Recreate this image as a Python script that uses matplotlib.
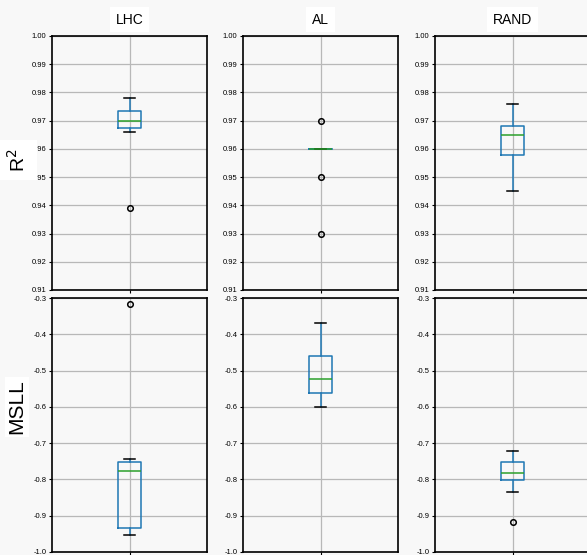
import matplotlib
matplotlib.use("Agg")
import matplotlib.pyplot as plt
import numpy as np

plt.rcParams['font.family'] = ['Liberation Sans', 'DejaVu Sans']

methods = ["LHC", "AL", "RAND"]
metrics = ["R$^2$", "MSLL"]

# box stats: whislo, q1, med, q3, whishi, fliers
r2_stats = [
    (0.966, 0.9675, 0.970, 0.9735, 0.978, [0.939]),
    (0.960, 0.960, 0.960, 0.960, 0.960, [0.97, 0.95, 0.93]),
    (0.945, 0.9577, 0.9648, 0.968, 0.976, []),
]
msll_stats = [
    (-0.953, -0.934, -0.776, -0.751, -0.743, [-0.316]),
    (-0.601, -0.562, -0.524, -0.459, -0.370, []),
    (-0.834, -0.801, -0.783, -0.753, -0.721, [-0.918]),
]
r2_ticks = [0.91, 0.92, 0.93, 0.94, 0.95, 0.96, 0.97, 0.98, 0.99, 1.00]
msll_ticks = [-1.0, -0.9, -0.8, -0.7, -0.6, -0.5, -0.4, -0.3]

W, H = 587, 555
fig = plt.figure(figsize=(W / 100, H / 100), dpi=100)
fig.patch.set_facecolor('#f8f8f8')

col_left = [52, 243, 435]
panel_w = 155
row_top = [36, 298]
panel_h = 254


def to_stats(t):
    lo, q1, med, q3, hi, fl = t
    return dict(whislo=lo, q1=q1, med=med, q3=q3, whishi=hi, fliers=fl)


for r, (stats, ticks, fmt) in enumerate([(r2_stats, r2_ticks, "{:.2f}"),
                                          (msll_stats, msll_ticks, "{:.1f}")]):
    for c in range(3):
        ax = fig.add_axes([col_left[c] / W, 1 - (row_top[r] + panel_h) / H,
                           panel_w / W, panel_h / H])
        ax.set_facecolor('#f8f8f8')
        ax.bxp([to_stats(stats[c])], widths=0.15,
               boxprops=dict(color='#1f77b4', lw=1.1),
               whiskerprops=dict(color='#1f77b4', lw=1.1),
               capprops=dict(color='black', lw=1.1),
               medianprops=dict(color='#2ca02c', lw=1.1),
               flierprops=dict(marker='o', markerfacecolor='none',
                               markeredgecolor='black', markersize=4,
                               markeredgewidth=1.1))
        ax.set_xlim(0.5, 1.5)
        ax.set_ylim(ticks[0], ticks[-1])
        ax.set_yticks(ticks)
        ax.set_yticklabels([fmt.format(v) for v in ticks], fontsize=5.5)
        ax.set_xticks([1])
        ax.set_xticklabels([""])
        ax.tick_params(axis='both', length=2, width=0.8, pad=2)
        ax.grid(True, color='#b8b8b8', lw=0.9)
        ax.set_axisbelow(True)
        for s in ax.spines.values():
            s.set_color('black')
            s.set_linewidth(1.2)
        if r == 0:
            ax.set_title(methods[c], fontsize=10, pad=9,
                         bbox=dict(facecolor='white', edgecolor='none', pad=4))

fig.text(18 / W, 1 - 160 / H, metrics[0], rotation=90, fontsize=14,
         ha='center', va='center',
         bbox=dict(facecolor='white', edgecolor='none', pad=6))
fig.text(17 / W, 1 - 407 / H, metrics[1], rotation=90, fontsize=15,
         ha='center', va='center',
         bbox=dict(facecolor='white', edgecolor='none', pad=2))

fig.savefig("out.png", dpi=100, facecolor=fig.get_facecolor())
